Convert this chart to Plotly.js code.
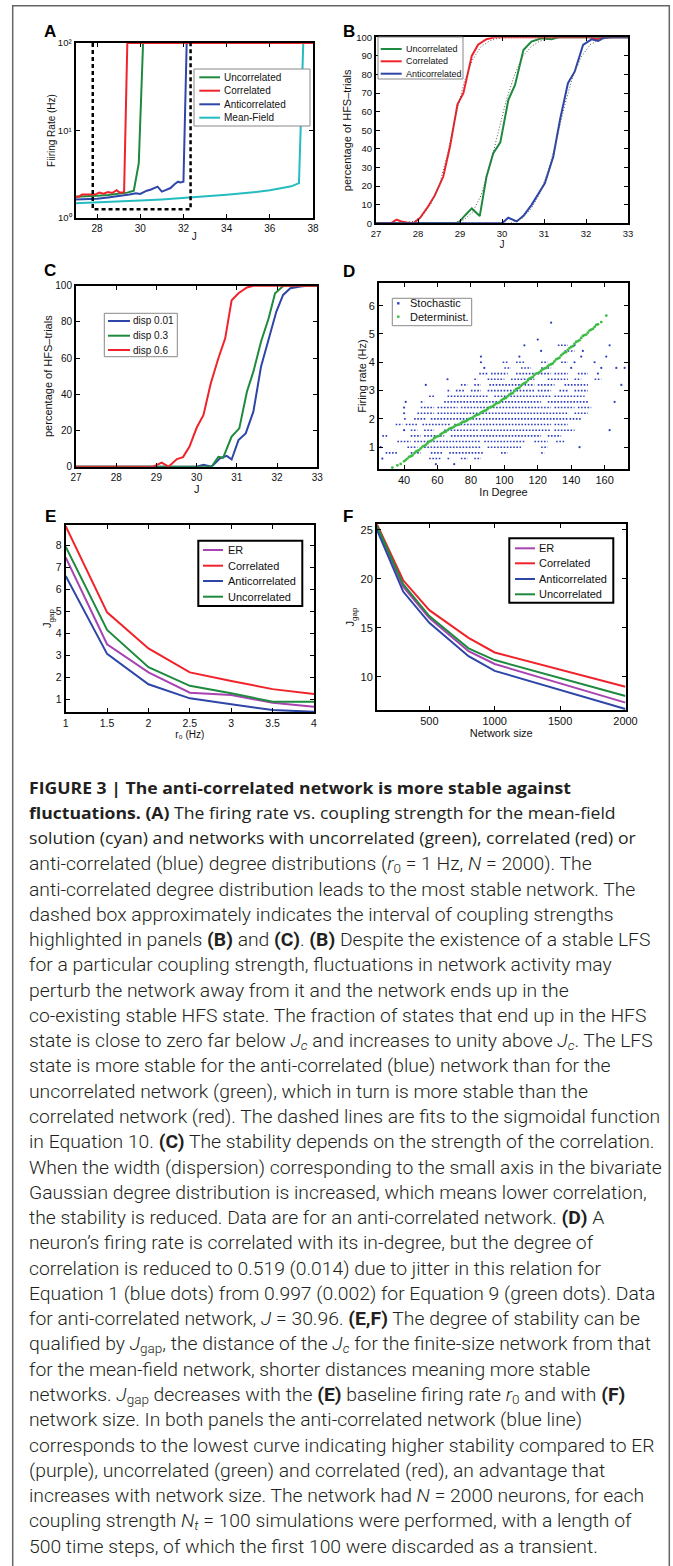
<!DOCTYPE html>
<html><head><meta charset="utf-8">
<script src="https://cdn.plot.ly/plotly-3.0.1.min.js"></script>
<style>
body{margin:0;background:#fff;}
#plot{position:absolute;left:0;top:0;width:673px;height:1566px;}
#caption{position:absolute;left:29px;top:0;color:#231f20;}
.ln{position:absolute;left:0;white-space:nowrap;transform-origin:0 50%;height:25px;line-height:25px;}
.g1{font-family:"Open Sans","Noto Sans",sans-serif;font-size:16px;}
.g2{font-family:Roboto,"Liberation Sans",Arial,sans-serif;font-size:18px;font-weight:300;}
.ln b{font-weight:700;}
.ln sub{font-size:70%;vertical-align:-0.25em;line-height:1;}
</style></head>
<body>
<div id="plot"></div>
<div id="caption"></div>
<script>
// ---------------- DATA ----------------
// Panel A: firing rate vs J
const aNames = ['Uncorrelated','Correlated','Anticorrelated','Mean-Field'];
const aJ_unc  = [27.0,27.5,28.0,28.5,29.0,29.4,29.7,29.93,30.13,38];
const aR_unc  = [1.75,1.76,1.8,1.83,1.88,1.95,2.05,4.2,100,100];
const aJ_corr = [27.0,27.15,27.3,27.5,27.7,27.9,28.1,28.3,28.5,28.7,28.9,29.05,29.25,29.4,38];
const aR_corr = [1.75,1.75,1.85,1.85,1.88,1.85,1.95,1.9,1.98,1.93,2.08,1.95,1.97,100,100];
const aJ_anti = [27.0,27.5,28.0,28.5,29.0,29.5,29.8,30.0,30.3,30.5,30.8,31.0,31.2,31.4,31.6,31.75,31.85,32.0,32.15,38];
const aR_anti = [1.63,1.64,1.66,1.72,1.78,1.86,1.92,1.88,2.05,2.12,2.28,2.0,2.1,2.2,2.45,2.6,2.55,2.6,100,100];
const aJ_mf   = [27,28,29,30,31,32,33,34,35,36,37,37.35,37.55,38];
const aR_mf   = [1.47,1.5,1.54,1.58,1.63,1.69,1.76,1.84,1.94,2.07,2.3,2.5,100,100];
const aBoxJ   = [27.8,27.8,32.33,32.33];
const aBoxR   = [100,1.26,1.26,100];
const aXTicks = [28,30,32,34,36,38];
const aYTicks = [1,10,100];
const aYText  = ['10\u2070','10\u00b9','10\u00b2'];

// Panel B: percentage of HFS trials
const bNames = ['Uncorrelated','Correlated','Anticorrelated'];
const bJ_unc = [27,28.95,29.13,29.28,29.47,29.63,29.79,29.96,30.15,30.31,30.51,30.7,30.94,31.18,31.34,33];
const bP_unc = [0,0,4.5,8,3.9,25,37.6,43.5,66.3,74.4,93.2,97.7,99.5,99,100,100];
const bJ_corr = [27,27.35,27.49,27.6,27.73,27.89,28.05,28.24,28.4,28.6,28.76,28.94,29.08,29.28,29.43,29.63,29.83,32.1,32.25,32.4,33];
const bP_corr = [0,0,2,1,0.5,0,3,9,15,25,41,64,70,90,96,99,100,100,99,100,100];
const bJ_anti = [27,30.0,30.15,30.35,30.51,30.7,31.02,31.22,31.38,31.57,31.73,31.93,32.13,32.29,32.41,32.6,33];
const bP_anti = [0,0,3,1,4,9.8,21.5,35.8,55.5,75.3,81.5,95.9,98.9,98,99.6,100,100];
const bFitJ_unc = [27,28.8,29.1,29.3,29.5,29.7,29.9,30.1,30.3,30.5,30.7,30.9,31.2,31.5,33];
const bFitP_unc = [0,0,2,6,15,30,48,66,80,90,95,98,99.5,100,100];
const bFitJ_corr = [27,27.5,27.9,28.1,28.3,28.5,28.7,28.9,29.1,29.3,29.5,29.7,29.9,30.2,33];
const bFitP_corr = [0,0,1,4,10,20,37,58,76,88,95,98,99.5,100,100];
const bFitJ_anti = [27,30.2,30.5,30.7,30.9,31.1,31.3,31.5,31.7,31.9,32.1,32.3,32.6,33];
const bFitP_anti = [0,0,3,8,16,28,45,64,80,90,96,98.5,100,100];
const bXTicks = [27,28,29,30,31,32,33];
const bYTicks = [0,10,20,30,40,50,60,70,80,90,100];

// Panel C: dispersion
const cNames = ['disp 0.01','disp 0.3','disp 0.6'];
const cJ_001 = [27,30.0,30.17,30.37,30.58,30.75,30.87,31.04,31.22,31.41,31.6,31.79,31.98,32.15,32.33,32.58,32.75,33];
const cP_001 = [0,0,1,0,4.6,6,4,14.7,18.4,30.4,55.2,70.9,85.6,94.9,98.6,99.6,100,100];
const cJ_03  = [27,30.37,30.54,30.66,30.87,31.06,31.25,31.41,31.6,31.79,31.95,32.16,33];
const cP_03  = [0,0,5.5,5,16.6,21.2,41.4,52.5,69,82,95.8,100,100];
const cJ_06  = [27,28.92,29.13,29.3,29.51,29.66,29.82,30.0,30.17,30.35,30.54,30.71,30.87,31.04,31.25,31.41,33];
const cP_06  = [0,0,2.2,0,4.2,5.3,11,21.5,28.6,46,59.9,70.9,92,95.8,99,100,100];
const cXTicks = [27,28,29,30,31,32,33];
const cYTicks = [0,20,40,60,80,100];

// Panel D: firing rate vs in-degree
const dNames = ['Stochastic','Determinist.'];
// stochastic neurons: for each quantised rate level, runs of in-degree [from,to]
const dStochRate = [0.4,0.6,0.8,1.0,1.2,1.4,1.6,1.8,2.0,2.2,2.4,2.6,2.8,3.0,3.2,3.4,3.6,3.8,4.0,4.2,4.4,4.6,4.8,5.4];
const dStochRuns = [
 [[59,59],[70,70]],
 [[27,27],[55,62],[66,68],[74,78],[82,86]],
 [[29,36],[44,50],[56,63],[67,88],[98,102],[122,124]],
 [[26,26],[42,48],[52,86],[90,110],[122,126],[145,145]],
 [[36,44],[46,86],[88,112],[118,126],[131,136]],
 [[27,30],[44,50],[52,64],[68,122],[126,134]],
 [[40,40],[44,48],[52,58],[64,84],[86,128],[130,142],[163,163]],
 [[35,39],[41,48],[51,68],[70,128],[130,138]],
 [[40,41],[46,53],[56,86],[87,138],[139,146]],
 [[40,40],[48,58],[60,138],[142,150]],
 [[40,40],[50,58],[60,72],[74,128],[130,142],[144,152]],
 [[41,41],[50,52],[64,122],[126,150],[166,166]],
 [[55,58],[66,90],[94,128],[130,148]],
 [[66,68],[71,76],[80,86],[90,118],[120,128],[133,138],[142,150]],
 [[53,53],[74,78],[82,86],[91,118],[120,130],[136,150],[170,170]],
 [[66,66],[82,84],[90,100],[104,118],[126,138],[142,146],[154,158]],
 [[85,90],[92,102],[107,118],[120,128],[130,138],[144,150],[156,156]],
 [[88,88],[100,104],[110,116],[122,128],[140,140],[158,158],[167,167],[172,172]],
 [[86,86],[99,102],[107,112],[122,126],[134,138],[142,142],[154,154]],
 [[86,86],[109,109],[146,146],[161,161]],
 [[122,122],[136,142],[147,147]],
 [[112,112],[132,138],[142,142],[163,163]],
 [[120,120]],
 [[128,128]]
];
const dDetDegA = [33,36,38,40,42,44,46,48,50,52,54,56,58,60,62,64,66,68,70,72,74,76,78,80,82,84,86,88,90,92,94,96,98,100,102,104,106,108,110,112,114,116,118,120,122,124,126,128,130,132,134,136,138,140,142,144,146,148,150,152,154,156,158,161];
const dDetRateA = [0.28,0.36,0.41,0.5,0.6,0.68,0.78,0.87,0.96,1.05,1.14,1.22,1.32,1.38,1.46,1.53,1.6,1.67,1.73,1.79,1.85,1.9,1.96,2.02,2.09,2.15,2.22,2.28,2.35,2.42,2.49,2.56,2.64,2.72,2.8,2.89,2.98,3.08,3.17,3.26,3.36,3.45,3.55,3.62,3.7,3.78,3.86,3.93,4.03,4.13,4.24,4.34,4.44,4.54,4.65,4.75,4.86,4.96,5.05,5.15,5.25,5.34,5.42,5.65];
const dDetDegB = [41,43,45,47,49,51,53,55,57,59,61,63,65,67,69,71,73,75,77,79,81,83,85,87,89,91,93,95,97,99,101,103,105,107,109,111,113,115,117,119,121,123,125,127,129,131,133,135,137,139,141,143,145,147,149,151,153,155];
const dDetRateB = [0.55,0.66,0.71,0.84,0.9,1.02,1.08,1.2,1.25,1.36,1.4,1.5,1.55,1.65,1.69,1.77,1.8,1.89,1.92,2.0,2.04,2.13,2.17,2.26,2.3,2.4,2.44,2.54,2.58,2.69,2.74,2.86,2.91,3.05,3.1,3.23,3.29,3.42,3.48,3.6,3.64,3.75,3.8,3.91,3.96,4.1,4.16,4.3,4.36,4.5,4.57,4.72,4.78,4.93,4.98,5.12,5.18,5.32];
const dXTicks = [40,60,80,100,120,140,160];
const dYTicks = [1,2,3,4,5,6];

// Panel E: J_gap vs r0
const eNames = ['ER','Correlated','Anticorrelated','Uncorrelated'];
const r0 = [1,1.5,2,2.5,3,3.5,4];
const eER   = [7.44,3.49,2.21,1.29,1.18,0.83,0.65];
const eCorr = [8.86,4.94,3.30,2.21,1.82,1.45,1.23];
const eAnti = [6.59,3.05,1.67,1.03,0.76,0.50,0.42];
const eUnc  = [7.92,4.14,2.45,1.60,1.26,0.88,0.88];
const eXTicks = [1,1.5,2,2.5,3,3.5,4];
const eYTicks = [1,2,3,4,5,6,7,8];

// Panel F: J_gap vs network size
const fNames = ['ER','Correlated','Anticorrelated','Uncorrelated'];
const netSize = [100,300,500,800,1000,2000];
const fER   = [25.3,19.2,16.0,12.6,11.3,7.35];
const fCorr = [25.55,19.85,16.8,13.97,12.48,8.98];
const fAnti = [25.0,18.7,15.5,12.1,10.6,6.7];
const fUnc  = [25.4,19.45,16.2,12.9,11.7,8.03];
const fXTicks = [500,1000,1500,2000];
const fYTicks = [10,15,20,25];

const panelLetters = ['A','B','C','D','E','F'];
const JGAP = 'J<span style="font-size:8px;baseline-shift:-3px">gap</span>';
const xTitles = ['J','J','J','In Degree','r\u2080 (Hz)','Network size'];
const yTitles = ['Fiiring Rate (Hz)','percentage of HFS\u2013trials','percentage of HFS\u2013trials','Firing rate (Hz)',JGAP,JGAP];

const captionLines = [
 '<b>FIGURE 3 | The anti-correlated network is more stable against</b>',
 '<b>fluctuations. (A)</b> The firing rate vs. coupling strength for the mean-field',
 'solution (cyan) and networks with uncorrelated (green), correlated (red) or',
 'anti-correlated (blue) degree distributions (<i>r</i><sub>0</sub> = 1 Hz, <i>N</i> = 2000). The',
 'anti-correlated degree distribution leads to the most stable network. The',
 'dashed box approximately indicates the interval of coupling strengths',
 'highlighted in panels <b>(B)</b> and <b>(C)</b>. <b>(B)</b> Despite the existence of a stable LFS',
 'for a particular coupling strength, fluctuations in network activity may',
 'perturb the network away from it and the network ends up in the',
 'co-existing stable HFS state. The fraction of states that end up in the HFS',
 'state is close to zero far below <i>J<sub>c</sub></i> and increases to unity above <i>J<sub>c</sub></i>. The LFS',
 'state is more stable for the anti-correlated (blue) network than for the',
 'uncorrelated network (green), which in turn is more stable than the',
 'correlated network (red). The dashed lines are fits to the sigmoidal function',
 'in Equation 10. <b>(C)</b> The stability depends on the strength of the correlation.',
 'When the width (dispersion) corresponding to the small axis in the bivariate',
 'Gaussian degree distribution is increased, which means lower correlation,',
 'the stability is reduced. Data are for an anti-correlated network. <b>(D)</b> A',
 'neuron\u2019s firing rate is correlated with its in-degree, but the degree of',
 'correlation is reduced to 0.519 (0.014) due to jitter in this relation for',
 'Equation 1 (blue dots) from 0.997 (0.002) for Equation 9 (green dots). Data',
 'for anti-correlated network, <i>J</i> = 30.96. <b>(E,F)</b> The degree of stability can be',
 'qualified by <i>J</i><sub>gap</sub>, the distance of the <i>J<sub>c</sub></i> for the finite-size network from that',
 'for the mean-field network, shorter distances meaning more stable',
 'networks. <i>J</i><sub>gap</sub> decreases with the <b>(E)</b> baseline firing rate <i>r</i><sub>0</sub> and with <b>(F)</b>',
 'network size. In both panels the anti-correlated network (blue line)',
 'corresponds to the lowest curve indicating higher stability compared to ER',
 '(purple), uncorrelated (green) and correlated (red), an advantage that',
 'increases with network size. The network had <i>N</i> = 2000 neurons, for each',
 'coupling strength <i>N<sub>t</sub></i> = 100 simulations were performed, with a length of',
 '500 time steps, of which the first 100 were discarded as a transient.'
];

// ---------------- DRAWING ----------------
const W = 673, H = 1566;
const PX = p => p / W, PY = p => 1 - p / H;
const FONT = 'Liberation Sans, Arial, sans-serif';
const C = {green:'#1d8a3e', red:'#f0232b', blue:'#2e46a8', cyan:'#24bcbf', purple:'#a844b0',
           dBlue:'#2f3fc0', dGreen:'#3dbb45'};

function axis(px0, px1, range, ticks, fs, title, tfs, standoff, extra) {
  return Object.assign({
    domain: [px0, px1], range: range, autorange: false, automargin: false,
    showline: true, linewidth: 2, linecolor: '#000', mirror: 'ticks',
    ticks: 'inside', ticklen: 4, tickwidth: 1, tickcolor: '#000',
    showgrid: false, zeroline: false, tickmode: 'array', tickvals: ticks,
    tickfont: {family: FONT, size: fs, color: '#111'}, fixedrange: true,
    title: {text: title, font: {family: FONT, size: tfs, color: '#111'}, standoff: standoff}
  }, extra || {});
}
function xd(a, b) { return [PX(a), PX(b)]; }
function yd(top, bottom) { return [PY(bottom), PY(top)]; }

const traces = [];
function line(x, y, xa, ya, color, w, dash) {
  traces.push({type:'scatter', mode:'lines', x:x, y:y, xaxis:xa, yaxis:ya,
    line:{color:color, width:w||2, dash:dash||'solid'}, showlegend:false, hoverinfo:'skip'});
}
// A
line(aJ_mf, aR_mf, 'x', 'y', C.cyan);
line(aJ_anti, aR_anti, 'x', 'y', C.blue);
line(aJ_unc, aR_unc, 'x', 'y', C.green);
line(aJ_corr, aR_corr, 'x', 'y', C.red);
line(aBoxJ, aBoxR, 'x', 'y', '#000', 2.5, '4px,3px');
// B
line(bJ_unc, bP_unc, 'x2', 'y2', C.green);
line(bJ_corr, bP_corr, 'x2', 'y2', C.red);
line(bJ_anti, bP_anti, 'x2', 'y2', C.blue);
line(bFitJ_unc, bFitP_unc, 'x2', 'y2', '#555', 1, '1px,2px');
line(bFitJ_corr, bFitP_corr, 'x2', 'y2', '#555', 1, '1px,2px');
line(bFitJ_anti, bFitP_anti, 'x2', 'y2', '#555', 1, '1px,2px');
// C
line(cJ_001, cP_001, 'x3', 'y3', C.blue);
line(cJ_03, cP_03, 'x3', 'y3', C.green);
line(cJ_06, cP_06, 'x3', 'y3', C.red);
// D stochastic rows
(function(){
  const xs = [], ys = [], sx = [], sy = [];
  dStochRate.forEach((r, i) => {
    dStochRuns[i].forEach(run => {
      if (run[0] === run[1]) { sx.push(run[0]); sy.push(r); }
      else { xs.push(run[0], run[1], null); ys.push(r, r, null); }
    });
  });
  traces.push({type:'scatter', mode:'lines', x:xs, y:ys, xaxis:'x4', yaxis:'y4',
    line:{color:C.dBlue, width:1.6, dash:'1.6px,1.6px'}, showlegend:false, hoverinfo:'skip', connectgaps:false});
  traces.push({type:'scatter', mode:'markers', x:sx, y:sy, xaxis:'x4', yaxis:'y4',
    marker:{color:C.dBlue, size:2.2}, showlegend:false, hoverinfo:'skip'});
})();
traces.push({type:'scatter', mode:'markers', x:dDetDegA.concat(dDetDegB), y:dDetRateA.concat(dDetRateB),
  xaxis:'x4', yaxis:'y4', marker:{color:C.dGreen, size:2.8}, showlegend:false, hoverinfo:'skip'});
// E
line(r0, eER, 'x5', 'y5', C.purple);
line(r0, eCorr, 'x5', 'y5', C.red);
line(r0, eAnti, 'x5', 'y5', C.blue);
line(r0, eUnc, 'x5', 'y5', C.green);
// F
line(netSize, fER, 'x6', 'y6', C.purple);
line(netSize, fCorr, 'x6', 'y6', C.red);
line(netSize, fAnti, 'x6', 'y6', C.blue);
line(netSize, fUnc, 'x6', 'y6', C.green);

const shapes = [];
const annotations = [];
function txt(x, y, text, size, opts) {
  annotations.push(Object.assign({xref:'paper', yref:'paper', x:PX(x), y:PY(y), text:text,
    showarrow:false, xanchor:'center', yanchor:'middle',
    font:{family:FONT, size:size, color:'#111'}}, opts || {}));
}
// outer frame
shapes.push({type:'rect', xref:'paper', yref:'paper', x0:PX(12.7), x1:PX(669.3), y0:PY(1580), y1:PY(5.7),
  line:{color:'#666', width:1.5}});

function legend(box, names, colors, rows, s0, s1, tx, fs, kind, bw, bc) {
  shapes.push({type:'rect', xref:'paper', yref:'paper', x0:PX(box[0]), x1:PX(box[2]), y0:PY(box[3]), y1:PY(box[1]),
    line:{color:bc, width:bw}, fillcolor:'#fff'});
  names.forEach((n, i) => {
    if (kind === 'dot') {
      shapes.push({type:'rect', xref:'paper', yref:'paper', x0:PX(s0-1.2), x1:PX(s0+1.2), y0:PY(rows[i]+1.2), y1:PY(rows[i]-1.2),
        line:{width:0}, fillcolor:colors[i]});
    } else {
      shapes.push({type:'line', xref:'paper', yref:'paper', x0:PX(s0), x1:PX(s1), y0:PY(rows[i]), y1:PY(rows[i]),
        line:{color:colors[i], width:2}});
    }
    txt(tx, rows[i], n, fs, {xanchor:'left'});
  });
}
legend([194,69,310,126], aNames, [C.green,C.red,C.blue,C.cyan], [77.3,90.7,104.3,117.7], 199.3, 220, 222, 10, 'line', 1, '#888');
legend([378,37,463,79], bNames, [C.green,C.red,C.blue], [49,61.3,73.7], 380.7, 401.7, 403.5, 9, 'line', 1, '#888');
legend([104.3,313.3,177.3,356.7], cNames, [C.blue,C.green,C.red], [321,335.7,350], 108, 130, 131.2, 10, 'line', 1, '#888');
legend([392.3,298.3,471.7,325.7], dNames, [C.dBlue,C.dGreen], [303.3,316.7], 398.3, 0, 408.5, 11, 'dot', 1, '#888');
legend([198.3,540.7,302.3,606], eNames, [C.purple,C.red,C.blue,C.green], [550,565.7,581,596.7], 203, 223, 226, 11, 'line', 2, '#000');
legend([509.3,538.3,613.3,602.7], fNames, [C.purple,C.red,C.blue,C.green], [548.3,563.3,579,594.3], 515, 535, 537.2, 11, 'line', 2, '#000');

// panel letters
const letterPos = [[50,32],[348.5,31],[50,270.5],[348.5,271.5],[50,516.5],[348,516.5]];
panelLetters.forEach((L, i) => txt(letterPos[i][0], letterPos[i][1], '<b>' + L + '</b>', 17, {font:{family:FONT, size:17, color:'#000'}}));

const layout = {
  width: W, height: H, margin: {l:0, r:0, t:0, b:0}, paper_bgcolor:'#fff', plot_bgcolor:'#fff',
  showlegend: false,
  xaxis:  axis(...xd(75.5,313), [27,38], aXTicks, 10, xTitles[0], 10, 0, {anchor:'y'}),
  yaxis:  axis(...yd(43,218), [0,2], aYTicks, 9.5, yTitles[0], 10, 0, {anchor:'x', type:'log', ticktext:aYText}),
  xaxis2: axis(...xd(376,628), [27,33], bXTicks, 9.5, xTitles[1], 10, 0, {anchor:'y2'}),
  yaxis2: axis(...yd(37.3,223.3), [0,100], bYTicks, 9.5, yTitles[1], 11, 2, {anchor:'x2'}),
  xaxis3: axis(...xd(76,317.3), [27,33], cXTicks, 10, xTitles[2], 11, 0, {anchor:'y3'}),
  yaxis3: axis(...yd(285.7,466.7), [0,100], cYTicks, 10, yTitles[2], 11, 0, {anchor:'x3'}),
  xaxis4: axis(...xd(379,628), [25,174], dXTicks, 11, xTitles[3], 11, 0, {anchor:'y4'}),
  yaxis4: axis(...yd(283,469), [0.23,6.8], dYTicks, 11, yTitles[3], 11, 0, {anchor:'x4'}),
  xaxis5: axis(...xd(65.7,314), [1,4], eXTicks, 10.5, xTitles[4], 10, 0, {anchor:'y5'}),
  yaxis5: axis(...yd(525,712), [0.41,8.91], eYTicks, 10.5, yTitles[4], 11, 0, {anchor:'x5'}),
  xaxis6: axis(...xd(377,625.5), [100,2000], fXTicks, 11, xTitles[5], 11, 0, {anchor:'y6'}),
  yaxis6: axis(...yd(524,710), [6.6,25.6], fYTicks, 11, yTitles[5], 11, 4, {anchor:'x6'}),
  shapes: shapes, annotations: annotations
};
Plotly.newPlot('plot', traces, layout, {staticPlot:true, displayModeBar:false});

// caption
const cap = document.getElementById('caption');
const firstY = 788, step = 25.27;
captionLines.forEach((t, i) => {
  const d = document.createElement('div');
  d.className = 'ln ' + (i < 3 ? 'g1' : 'g2');
  d.style.top = (firstY + i * step - 12.5) + 'px';
  d.innerHTML = t;
  cap.appendChild(d);
});
function fit() {
  const lines = cap.children;
  const s1 = 607 / lines[2].scrollWidth;   // group 1 calibration line
  const s2 = 633 / lines[15].scrollWidth;  // group 2 calibration line
  for (let i = 0; i < lines.length; i++) {
    lines[i].style.transform = 'scaleX(' + (i < 3 ? s1 : s2) + ')';
  }
}
fit();
if (document.fonts && document.fonts.ready) document.fonts.ready.then(fit);
</script>
</body></html>
